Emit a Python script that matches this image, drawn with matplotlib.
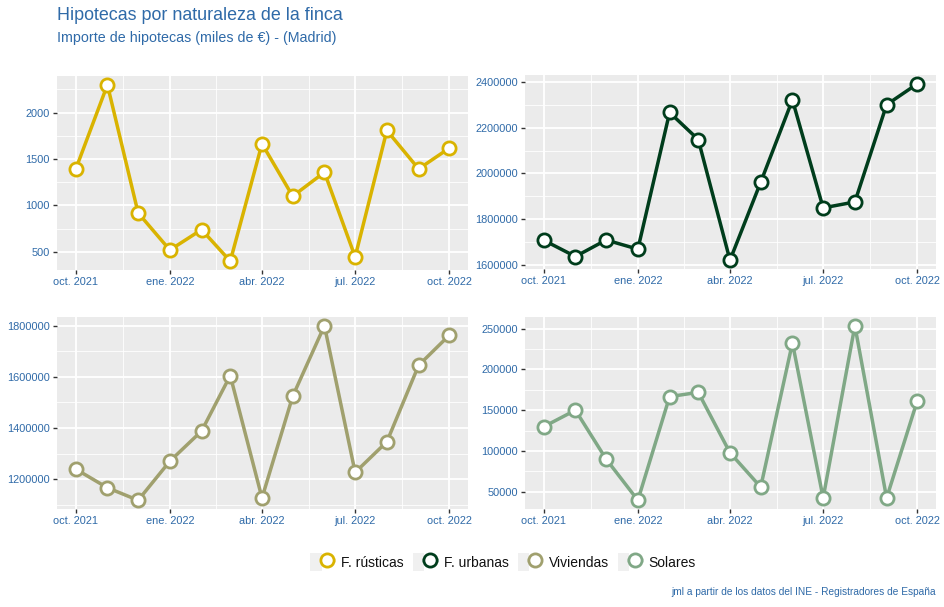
import matplotlib
matplotlib.use("Agg")
import matplotlib.pyplot as plt
import matplotlib.dates as mdates
from matplotlib.lines import Line2D
from matplotlib.patches import Rectangle
from matplotlib.legend_handler import HandlerTuple
from matplotlib.ticker import FixedLocator, FuncFormatter
import datetime as dt

plt.rcParams['font.family'] = ['Liberation Sans', 'DejaVu Sans']

months = [dt.date(2021, 10, 1), dt.date(2021, 11, 1), dt.date(2021, 12, 1),
          dt.date(2022, 1, 1), dt.date(2022, 2, 1), dt.date(2022, 3, 1),
          dt.date(2022, 4, 1), dt.date(2022, 5, 1), dt.date(2022, 6, 1),
          dt.date(2022, 7, 1), dt.date(2022, 8, 1), dt.date(2022, 9, 1),
          dt.date(2022, 10, 1)]

rusticas = [1390, 2300, 920, 520, 740, 400, 1665, 1100, 1358, 446, 1808, 1394, 1618]
urbanas = [1709000, 1638000, 1710000, 1670000, 2266000, 2148000, 1622000,
           1962000, 2321000, 1850000, 1876000, 2300000, 2391000]
viviendas = [1239000, 1166000, 1117000, 1270000, 1388000, 1605000, 1126000,
             1524000, 1800000, 1226000, 1346000, 1645000, 1763000]
solares = [129700, 150000, 90000, 39500, 166600, 171900, 97800,
           55700, 232600, 42300, 253600, 42300, 161700]

series_names = ["F. rústicas", "F. urbanas", "Viviendas", "Solares"]
colors = ["#d9b300", "#003d1c", "#a0a06e", "#80a886"]
y_ticks = [[500, 1000, 1500, 2000],
           [1600000, 1800000, 2000000, 2200000, 2400000],
           [1200000, 1400000, 1600000, 1800000],
           [50000, 100000, 150000, 200000, 250000]]
x_tick_dates = [dt.date(2021, 10, 1), dt.date(2022, 1, 1), dt.date(2022, 4, 1),
                dt.date(2022, 7, 1), dt.date(2022, 10, 1)]
x_tick_labels = ["oct. 2021", "ene. 2022", "abr. 2022", "jul. 2022", "oct. 2022"]

title = "Hipotecas por naturaleza de la finca"
subtitle = "Importe de hipotecas (miles de €) - (Madrid)"
caption = "jml a partir de los datos del INE - Registradores de España"

text_col = "#2f6aa8"
W, H = 944, 607
fig = plt.figure(figsize=(W / 100, H / 100), dpi=100)

# panel boxes in pixels: (left, top, right, bottom)
boxes = [(57, 76, 468, 270), (525, 75, 936, 269),
         (57, 317, 468, 509), (525, 317, 936, 509)]
data = [rusticas, urbanas, viviendas, solares]

xnum = mdates.date2num(months)
xticks_num = mdates.date2num(x_tick_dates)
xminor = [(xticks_num[i] + xticks_num[i + 1]) / 2 for i in range(len(xticks_num) - 1)]
span = xnum[-1] - xnum[0]

for i, (box, vals, col, yt) in enumerate(zip(boxes, data, colors, y_ticks)):
    l, t, r, b = box
    ax = fig.add_axes([l / W, 1 - b / H, (r - l) / W, (b - t) / H])
    ax.set_facecolor("#ebebeb")
    for s in ax.spines.values():
        s.set_visible(False)
    ax.plot(xnum, vals, color=col, lw=2.5, marker="o", ms=9.5,
            mfc="white", mec=col, mew=2.0, zorder=3, solid_joinstyle="miter")
    vmin, vmax = min(vals), max(vals)
    pad = (vmax - vmin) * 0.05
    ax.set_ylim(vmin - pad, vmax + pad)
    ax.set_xlim(xnum[0] - span * 0.05, xnum[-1] + span * 0.05)
    ax.yaxis.set_major_locator(FixedLocator(yt))
    step = yt[1] - yt[0]
    yminor = [yt[0] - step / 2] + [v + step / 2 for v in yt]
    ax.yaxis.set_minor_locator(FixedLocator(yminor))
    ax.xaxis.set_major_locator(FixedLocator(xticks_num))
    ax.xaxis.set_minor_locator(FixedLocator(xminor))
    ax.set_xticklabels(x_tick_labels)
    ax.yaxis.set_major_formatter(FuncFormatter(lambda v, p: f"{int(round(v))}"))
    ax.grid(which="major", color="white", lw=1.3, zorder=0)
    ax.grid(which="minor", color="white", lw=0.6, zorder=0)
    ax.set_axisbelow(True)
    ax.tick_params(which="major", length=3, width=1, color="#333333",
                   labelsize=7.9, labelcolor=text_col, pad=2)
    ax.tick_params(which="minor", length=0)

fig.text(57 / W, 1 - 15 / H, title, fontsize=12.9, color=text_col, va="center", ha="left")
fig.text(57 / W, 1 - 38 / H, subtitle, fontsize=10.3, color=text_col, va="center", ha="left")
fig.text(936 / W, 1 - 592 / H, caption, fontsize=7.3, color=text_col, va="center", ha="right")

handles = []
for c in colors:
    bg = Rectangle((0, 0), 1, 1, facecolor="#f0f0f0", edgecolor="none")
    ln = Line2D([0], [0], color=c, lw=2.5, marker="o", ms=9.5, mfc="white",
                mec=c, mew=2.0)
    handles.append((bg, ln))
leg = fig.legend(handles, series_names, loc="center", bbox_to_anchor=(503 / W, 1 - 562 / H),
                 ncol=4, frameon=False, fontsize=10, handlelength=1.65, handleheight=1.65,
                 columnspacing=0.65, handletextpad=0.58,
                 handler_map={tuple: HandlerTuple(ndivide=None, pad=0)})
for t in leg.get_texts():
    t.set_color("#111111")

fig.savefig("out.png", dpi=100)
